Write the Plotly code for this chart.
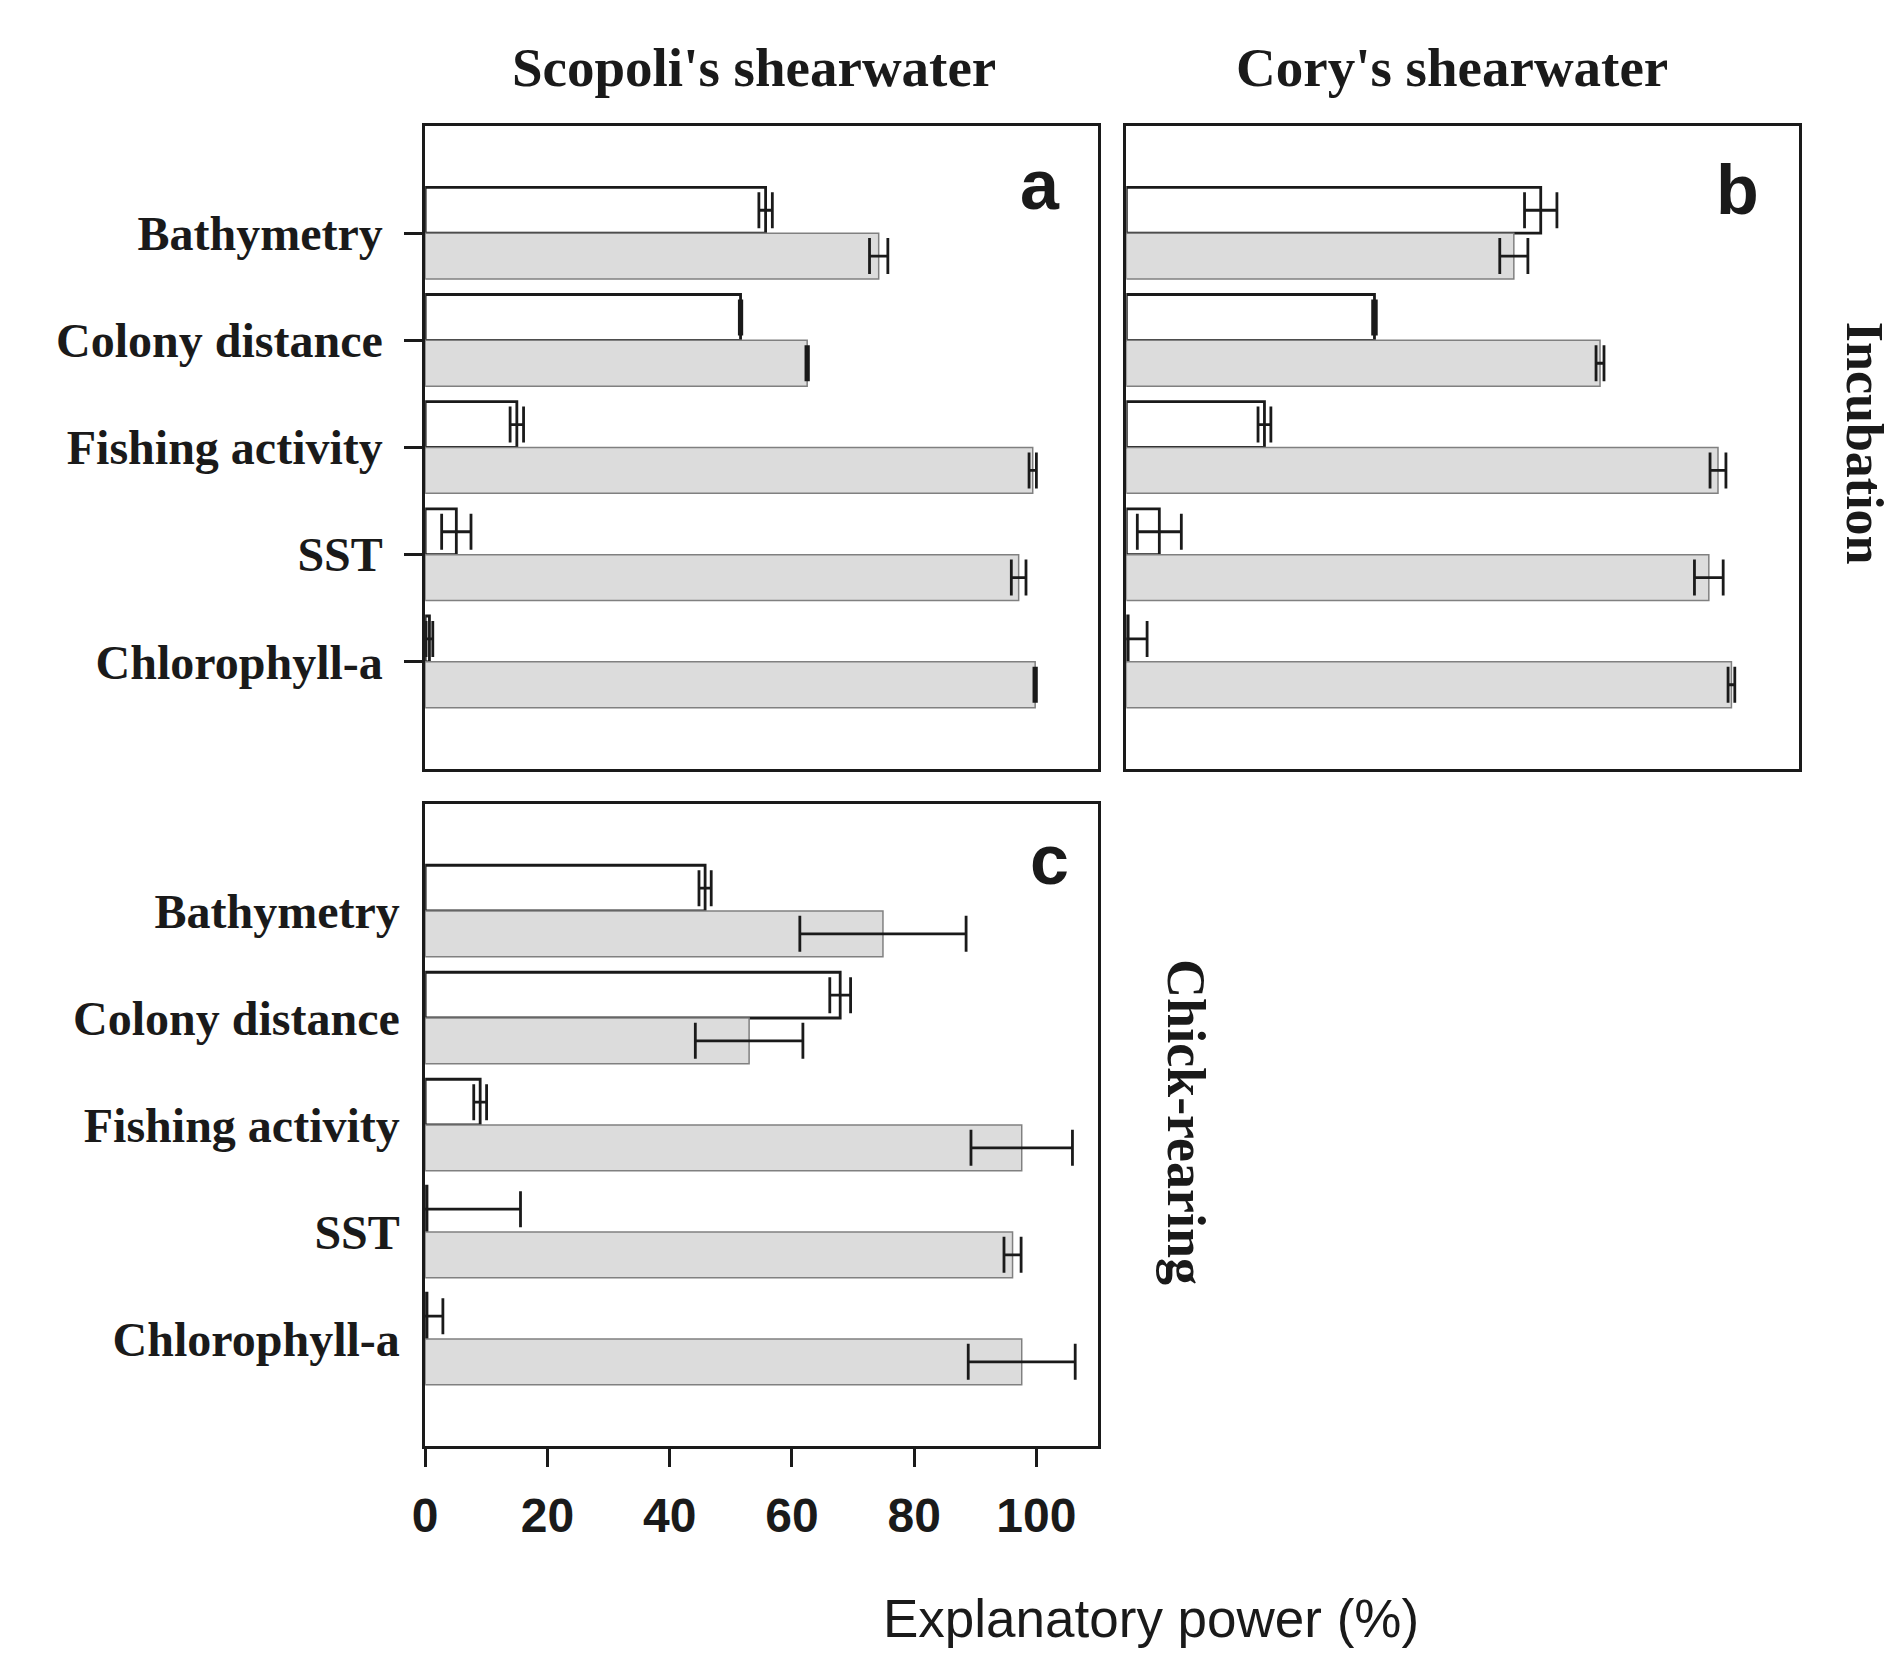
import plotly.graph_objects as go

# ---------------- data ----------------
categories = ["Bathymetry", "Colony distance", "Fishing activity", "SST", "Chlorophyll-a"]
tick_vals = [0, 20, 40, 60, 80, 100]

# panel a: Scopoli's shearwater, incubation
a_white = [55.7, 51.6, 15.0, 5.1, 0.7]
a_white_se = [1.1, 0.2, 1.1, 2.4, 0.55]
a_grey = [74.2, 62.5, 99.4, 97.1, 99.8]
a_grey_se = [1.5, 0.2, 0.6, 1.2, 0.2]

# panel b: Cory's shearwater, incubation
b_white = [67.8, 40.6, 22.6, 5.4, 0.3]
b_white_se = [2.65, 0.3, 1.05, 3.6, 3.1]
b_grey = [63.4, 77.5, 96.8, 95.3, 99.0]
b_grey_se = [2.3, 0.65, 1.3, 2.35, 0.55]

# panel c: Scopoli's shearwater, chick-rearing
c_white = [45.8, 67.9, 9.0, 0.3, 0.3]
c_white_se = [1.0, 1.7, 1.05, 15.3, 2.6]
c_grey = [74.9, 53.0, 97.6, 96.1, 97.6]
c_grey_se = [13.6, 8.8, 8.3, 1.4, 8.75]

# ---------------- layout helpers ----------------
W, H = 1896, 1655


def xdom(left, right):
    return [left / W, right / W]


def ydom(top, bottom):
    return [1 - bottom / H, 1 - top / H]


SERIF = "Liberation Serif, Times New Roman, serif"
SANS = "Liberation Sans, Arial, sans-serif"

fig = go.Figure()

panels = [
    ("x", "y", a_white, a_white_se, a_grey, a_grey_se),
    ("x2", "y2", b_white, b_white_se, b_grey, b_grey_se),
    ("x3", "y3", c_white, c_white_se, c_grey, c_grey_se),
]

for xa, ya, wv, wse, gv, gse in panels:
    fig.add_trace(go.Bar(
        x=wv, y=categories, orientation="h", xaxis=xa, yaxis=ya,
        marker=dict(color="white", line=dict(color="#1a1a1a", width=2.8)),
        error_x=dict(type="data", array=wse, visible=True, color="#1a1a1a",
                     thickness=2.8, width=18),
        showlegend=False, offsetgroup="w",
    ))
    fig.add_trace(go.Bar(
        x=gv, y=categories, orientation="h", xaxis=xa, yaxis=ya,
        marker=dict(color="#dcdcdc", line=dict(color="#808080", width=1.5)),
        error_x=dict(type="data", array=gse, visible=True, color="#1a1a1a",
                     thickness=2.8, width=18),
        showlegend=False, offsetgroup="g",
    ))

frame = dict(showline=True, mirror=True, linecolor="#1a1a1a", linewidth=2.5,
             showgrid=False, zeroline=False)

xcommon = dict(range=[0, 110], **frame)
ycommon = dict(type="category", categoryorder="array", categoryarray=categories,
               range=[5, -1], autorange=False, **frame)

fig.update_layout(
    width=W, height=H,
    margin=dict(l=0, r=0, t=0, b=0),
    paper_bgcolor="white", plot_bgcolor="white",
    barmode="group", bargap=0.145, bargroupgap=0,
    xaxis=dict(domain=xdom(415, 1092), anchor="y", showticklabels=False, ticks="", **xcommon),
    yaxis=dict(domain=ydom(126, 769), anchor="x", ticks="outside", ticklen=18, tickwidth=2.5,
               tickcolor="#1a1a1a", ticklabelstandoff=12,
               tickfont=dict(family=SERIF, size=48, color="#1a1a1a", weight="bold"), **ycommon),
    xaxis2=dict(domain=xdom(1121, 1798), anchor="y2", showticklabels=False, ticks="", **xcommon),
    yaxis2=dict(domain=ydom(126, 769), anchor="x2", showticklabels=False, ticks="", **ycommon),
    xaxis3=dict(domain=xdom(415, 1092), anchor="y3", ticks="outside", ticklen=18, tickwidth=2.5,
                tickcolor="#1a1a1a", tickvals=tick_vals, ticklabelstandoff=8,
                tickfont=dict(family=SANS, size=48, color="#1a1a1a", weight="bold"), **xcommon),
    yaxis3=dict(domain=ydom(804, 1446), anchor="x3", ticks="", ticklabelstandoff=13,
                tickfont=dict(family=SERIF, size=48, color="#1a1a1a", weight="bold"), **ycommon),
)


def ann(text, px, py, size, family, bold=True, angle=0, xanchor="center", yanchor="middle"):
    fig.add_annotation(
        text=text, x=px / W, y=1 - py / H, xref="paper", yref="paper",
        showarrow=False, xanchor=xanchor, yanchor=yanchor, textangle=angle,
        font=dict(family=family, size=size, color="#1a1a1a", weight="bold" if bold else "normal"),
    )


ann("Scopoli's shearwater", 746, 68, 55, SERIF)
ann("Cory's shearwater", 1449, 68, 55, SERIF)
ann("a", 1034, 185, 70, SANS)
ann("b", 1736, 190, 70, SANS)
ann("c", 1044, 860, 70, SANS)
ann("Incubation", 1864, 443, 52, SERIF, angle=90)
ann("Chick-rearing", 1181, 1122, 54, SERIF, angle=90)
ann("Explanatory power (%)", 1146, 1618, 53, SANS, bold=False)

fig.write_html("out.html", config={"displayModeBar": False},
               post_script="document.body.style.margin='0px';")
